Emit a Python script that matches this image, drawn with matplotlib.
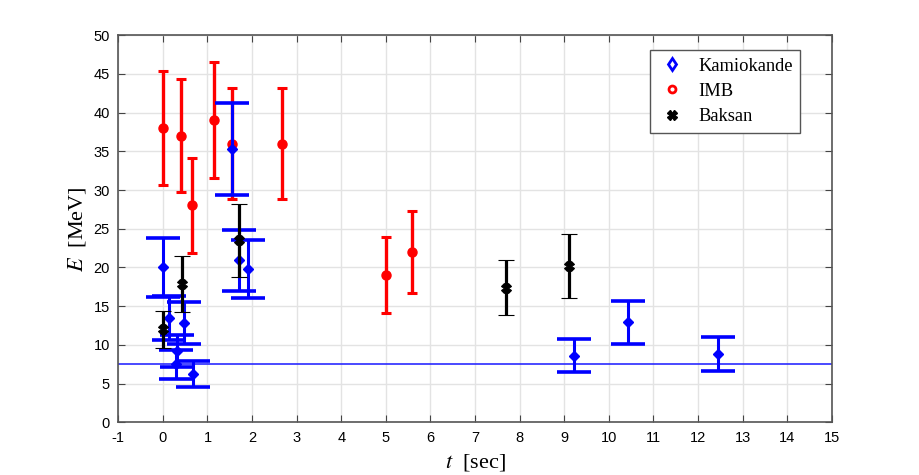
import matplotlib.pyplot as plt
from matplotlib.lines import Line2D
import numpy as np

# SN1987A neutrino events
kam_t = [0.0, 0.137, 0.30, 0.32, 0.48, 0.68, 1.55, 1.70, 1.90, 9.22, 10.43, 12.44]
kam_E = [20.0, 13.5, 7.5, 9.2, 12.8, 6.2, 35.3, 20.9, 19.8, 8.6, 12.9, 8.8]
kam_err = [3.8, 2.85, 1.85, 2.1, 2.7, 1.65, 6.0, 3.9, 3.8, 2.1, 2.8, 2.15]

imb_t = [0.0, 0.41, 0.65, 1.14, 1.56, 2.68, 5.01, 5.58]
imb_E = [38.0, 37.0, 28.0, 39.0, 36.0, 36.0, 19.0, 22.0]
imb_err = [7.4, 7.3, 6.1, 7.5, 7.2, 7.2, 4.9, 5.3]

bak_t = [0.0, 0.435, 1.71, 7.69, 9.10]
bak_E = [12.0, 17.9, 23.5, 17.4, 20.2]
bak_err = [2.4, 3.6, 4.7, 3.5, 4.1]

threshold = 7.5
xticks = np.arange(-1, 16, 1)
yticks = np.arange(0, 51, 5)

plt.rcParams['mathtext.fontset'] = 'stix'
tick_font = ['Liberation Sans Narrow', 'Liberation Sans', 'DejaVu Sans']
serif_font = ['Liberation Serif', 'DejaVu Serif']

fig = plt.figure(figsize=(9.19, 4.75), dpi=100)
ax = fig.add_axes([0.1287, 0.111, 0.7763, 0.815])

ax.axhline(threshold, color='#2a2aff', lw=1.2, zorder=1)

ax.errorbar(kam_t, kam_E, yerr=kam_err, fmt='D', color='blue', ms=5.5,
            elinewidth=2.2, capsize=12, capthick=2.6, zorder=3)
ax.errorbar(imb_t, imb_E, yerr=imb_err, fmt='o', color='red', ms=6.5,
            elinewidth=2.4, capsize=3.5, capthick=2.2, zorder=2)
ax.errorbar(bak_t, bak_E, yerr=bak_err, fmt='X', color='black', ms=7,
            mew=0.8, elinewidth=2.3, capsize=5.5, capthick=2.6, zorder=4)

ax.set_xlim(-1, 15)
ax.set_ylim(0, 50)
ax.set_xticks(xticks)
ax.set_yticks(yticks)
ax.set_xticklabels([str(v) for v in xticks], family=tick_font, fontsize=10.5)
ax.set_yticklabels([str(v) for v in yticks], family=tick_font, fontsize=10.5)
ax.tick_params(direction='in', top=True, right=True, length=5, width=0.8,
               color='#444444', pad=6)
ax.grid(True, color='#e3e3e3', lw=1)
ax.set_axisbelow(True)
for s in ax.spines.values():
    s.set_color('#555555')
    s.set_linewidth(1.2)

ax.set_xlabel(r'$t$  [sec]', family=serif_font, fontsize=16, labelpad=5)
ax.set_ylabel(r'$E$  [MeV]', family=serif_font, fontsize=16, labelpad=4)

handles = [
    Line2D([], [], ls='none', marker='d', color='blue', mfc='white', mew=2, ms=6),
    Line2D([], [], ls='none', marker='o', color='red', mfc='white', mew=2, ms=5),
    Line2D([], [], ls='none', marker='X', color='black', ms=7),
]
leg = ax.legend(handles, ['Kamiokande', 'IMB', 'Baksan'], loc='upper right',
                bbox_to_anchor=(0.9556, 0.961), borderaxespad=0,
                prop={'family': serif_font, 'size': 13.3},
                fancybox=False, framealpha=1, edgecolor='#555555',
                handletextpad=0.6, handlelength=1.6, borderpad=0.4,
                labelspacing=0.45)
leg.get_frame().set_linewidth(1.0)

fig.savefig('out.png', dpi=100, facecolor='white')
